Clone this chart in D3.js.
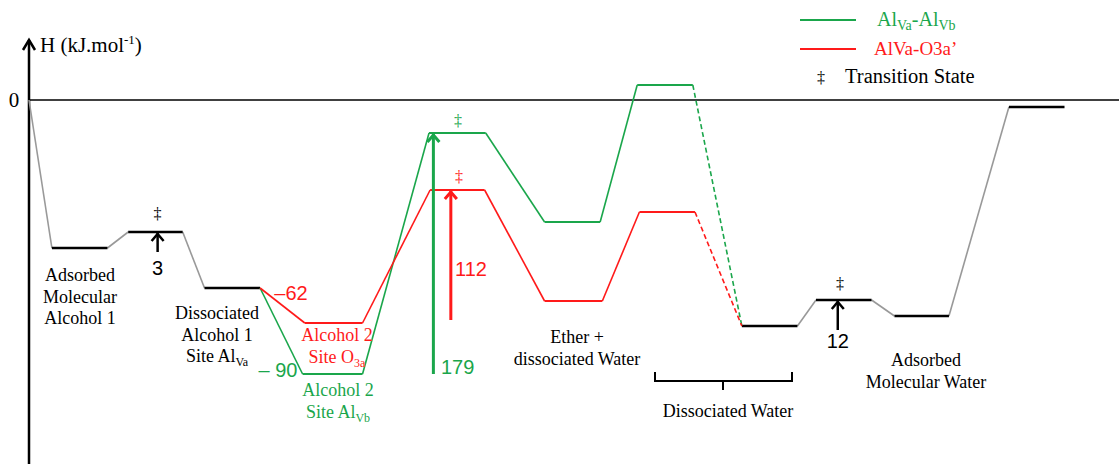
<!DOCTYPE html>
<html>
<head>
<meta charset="utf-8">
<script src="https://cdn.jsdelivr.net/npm/d3@7"></script>
<style>
  body { margin: 0; background: #fff; }
  svg { display: block; }
</style>
</head>
<body>
<div id="chart"></div>
<script>
// schematic enthalpy levels (reaction coordinate start/end, relative H)
const commonStart = [
  {x0: 2.1, x1: 7.2, h: -148},   // adsorbed molecular alcohol 1
  {x0: 9.1, x1: 14.1, h: -132},  // TS
  {x0: 16.1, x1: 21.2, h: -188}  // dissociated alcohol 1
];
const greenLevels = [
  {x0: 25.1, x1: 30.6, h: -274},
  {x0: 36.7, x1: 41.9, h: -33},
  {x0: 47.3, x1: 52.4, h: -122},
  {x0: 55.8, x1: 60.9, h: 15}
];
const redLevels = [
  {x0: 25.3, x1: 30.6, h: -223},
  {x0: 36.8, x1: 41.8, h: -90},
  {x0: 47.3, x1: 52.6, h: -201},
  {x0: 56.0, x1: 61.1, h: -112}
];
const commonEnd = [
  {x0: 65.4, x1: 70.5, h: -226},  // dissociated water
  {x0: 72.2, x1: 77.3, h: -200},  // TS
  {x0: 79.4, x1: 84.4, h: -216},  // adsorbed molecular water
  {x0: 89.9, x1: 95.0, h: -7}
];
const GREEN = "#1aa64b", RED = "#ff1a1a";
const SERIF = "'Liberation Serif', 'Times New Roman', serif";
const SANS = "'Liberation Sans', Arial, sans-serif";

const W = 1119, H = 464;
const svg = d3.select("#chart").append("svg").attr("width", W).attr("height", H);

const x = d3.scaleLinear().domain([0, 100]).range([29, 1119]);
const y = d3.scaleLinear().domain([0, -300]).range([100, 400]);

// axes
svg.append("line").attr("x1", x(0)).attr("x2", x(0)).attr("y1", 40).attr("y2", H)
  .attr("stroke", "#000").attr("stroke-width", 2.5);
svg.append("path").attr("d", `M${x(0)-6},${50} L${x(0)},${40} L${x(0)+6},${50}`)
  .attr("fill", "none").attr("stroke", "#000").attr("stroke-width", 2.5);
svg.append("line").attr("x1", x(0)).attr("x2", W).attr("y1", y(0)).attr("y2", y(0))
  .attr("stroke", "#000").attr("stroke-width", 1.5);

svg.append("text").attr("font-family", SERIF).attr("x", 14).attr("y", y(0) + 7)
  .attr("text-anchor", "middle").attr("font-size", 21).text("0");
const hl = svg.append("text").attr("font-family", SERIF).attr("x", 40).attr("y", 52).attr("font-size", 21);
hl.append("tspan").text("H (kJ.mol");
hl.append("tspan").attr("font-size", 13).attr("dy", -8).text("-1");
hl.append("tspan").attr("dy", 8).text(")");

function seg(a, b) { return [[x(a.x1), y(a.h)], [x(b.x0), y(b.h)]]; }
const line = d3.line();

function drawConnectors(levels, color, width, first) {
  let prev = first;
  levels.forEach(l => {
    if (prev) svg.append("path").attr("d", line(seg(prev, l)))
      .attr("fill", "none").attr("stroke", color).attr("stroke-width", width);
    prev = l;
  });
}
function drawPlateaus(levels, color, width) {
  svg.selectAll(null).data(levels).enter().append("line")
    .attr("x1", d => x(d.x0)).attr("x2", d => x(d.x1))
    .attr("y1", d => y(d.h)).attr("y2", d => y(d.h))
    .attr("stroke", color).attr("stroke-width", width);
}

// common black/gray parts
const origin = {x0: 0, x1: 0, h: 0};
drawConnectors(commonStart, "#999", 1.6, origin);
drawConnectors(commonEnd, "#999", 1.6, null);
drawPlateaus(commonStart, "#000", 2.5);
drawPlateaus(commonEnd, "#000", 2.5);

// colored pathways
[[greenLevels, GREEN], [redLevels, RED]].forEach(([lv, c]) => {
  drawConnectors(lv, c, 1.6, commonStart[2]);
  drawPlateaus(lv, c, 1.8);
  svg.append("path").attr("d", line(seg(lv[lv.length - 1], commonEnd[0])))
    .attr("fill", "none").attr("stroke", c).attr("stroke-width", 1.6)
    .attr("stroke-dasharray", "5,3");
});

// barrier arrows
function arrow(xv, hFrom, hTo, color, width) {
  const xp = x(xv), y0 = y(hFrom), y1 = y(hTo);
  svg.append("line").attr("x1", xp).attr("x2", xp).attr("y1", y0).attr("y2", y1 + 1)
    .attr("stroke", color).attr("stroke-width", width);
  svg.append("path").attr("d", `M${xp-6},${y1+9} L${xp},${y1+2} L${xp+6},${y1+9}`)
    .attr("fill", "none").attr("stroke", color).attr("stroke-width", width);
}
arrow(11.8, -152, commonStart[1].h, "#000", 2.5);
arrow(37.1, greenLevels[0].h, greenLevels[1].h, GREEN, 3);
arrow(38.7, -220, redLevels[1].h, RED, 3);
arrow(74.2, -230, commonEnd[1].h, "#000", 2.5);

function txt(xp, yp, s, color, size, fam, anchor) {
  return svg.append("text").attr("font-family", fam).attr("x", xp).attr("y", yp)
    .attr("fill", color).attr("font-size", size).attr("text-anchor", anchor || "middle").text(s);
}
// numbers
txt(x(11.8), 275, "3", "#000", 20, SANS);
txt(x(74.2), 348, "12", "#000", 20, SANS);
txt(291, 300, "\u201362", RED, 20, SANS);
txt(278, 377, "\u2013 90", GREEN, 20, SANS);
txt(441, 374, "179", GREEN, 20, SANS, "start");
txt(455, 276, "112", RED, 20, SANS, "start");

// transition state marks
txt(x(11.8), 219, "\u2021", "#000", 16, SERIF);
txt(458, 126, "\u2021", GREEN, 16, SERIF);
txt(459, 182, "\u2021", RED, 16, SERIF);
txt(840, 289, "\u2021", "#000", 16, SERIF);

// text with subscripts: parts are strings or {s: "..."} for subscript
function rich(t, parts, subSize) {
  let down = false;
  parts.forEach(p => {
    if (typeof p === "string") { t.append("tspan").attr("dy", down ? -4 : 0).text(p); down = false; }
    else { t.append("tspan").attr("font-size", subSize).attr("dy", 4).text(p.s); down = true; }
  });
}
function multi(xp, yp, lines, color) {
  lines.forEach((l, i) => {
    const t = svg.append("text").attr("font-family", SERIF).attr("x", xp).attr("y", yp + i * 21.5)
      .attr("fill", color).attr("font-size", 18).attr("text-anchor", "middle");
    rich(t, l, 12);
  });
}
multi(80, 281, [["Adsorbed"], ["Molecular"], ["Alcohol 1"]], "#000");
multi(217, 319, [["Dissociated"], ["Alcohol 1"], ["Site Al", {s: "Va"}]], "#000");
multi(337, 341, [["Alcohol 2"], ["Site O", {s: "3a"}]], RED);
multi(338, 396, [["Alcohol 2"], ["Site Al", {s: "Vb"}]], GREEN);
multi(577, 343, [["Ether +"], ["dissociated Water"]], "#000");
multi(926, 366, [["Adsorbed"], ["Molecular Water"]], "#000");
multi(728, 417, [["Dissociated Water"]], "#000");

// bracket under dissociated water
svg.append("path").attr("d", "M655,372 L655,381 L792,381 L792,372 M723,381 L723,390")
  .attr("fill", "none").attr("stroke", "#000").attr("stroke-width", 2);

// legend
const legend = [
  {label: ["Al", {s: "Va"}, "-Al", {s: "Vb"}], color: GREEN, ly: 20, size: 20, lx: 877},
  {label: ["AlVa-O3a\u2019"], color: RED, ly: 49, size: 19, lx: 874}
];
legend.forEach(d => {
  svg.append("line").attr("x1", 800).attr("x2", 856).attr("y1", d.ly).attr("y2", d.ly)
    .attr("stroke", d.color).attr("stroke-width", 2);
  const t = svg.append("text").attr("font-family", SERIF).attr("x", d.lx).attr("y", d.ly + 6)
    .attr("fill", d.color).attr("font-size", d.size);
  rich(t, d.label, 14);
});
txt(821, 83, "\u2021", "#000", 16, SERIF);
txt(845, 83, "Transition State", "#000", 20.5, SERIF, "start");
</script>
</body>
</html>
